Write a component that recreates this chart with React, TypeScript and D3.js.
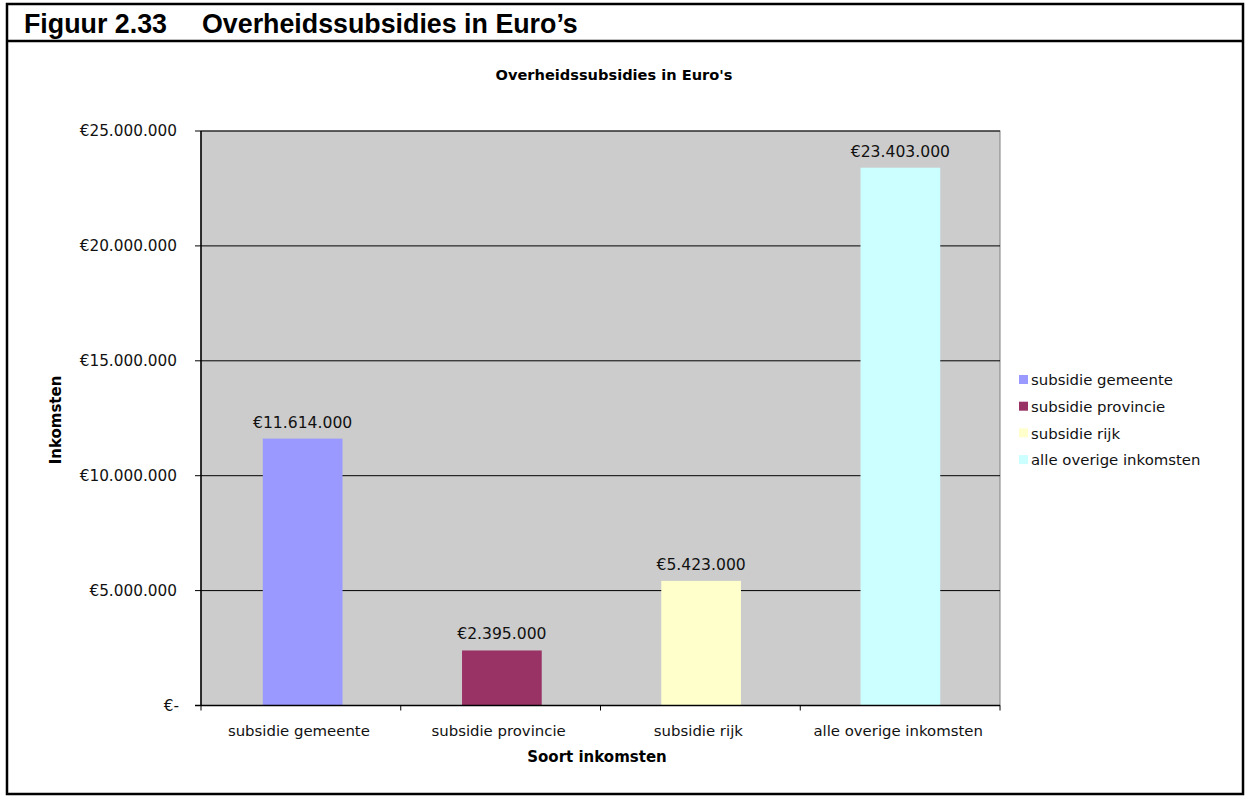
import React from "react";
import * as d3 from "d3";

const categories = ["subsidie gemeente", "subsidie provincie", "subsidie rijk", "alle overige inkomsten"];
const values = [11614000, 2395000, 5423000, 23403000];
const colors = ["#9999FF", "#993366", "#FFFFCC", "#CCFFFF"];
const yTicks = [0, 5000000, 10000000, 15000000, 20000000, 25000000];

const fmt = (v: number) => {
  if (v === 0) return "€-";
  return "€" + d3.format(",")(v).replace(/,/g, ".");
};

export default function App() {
  const W = 1245, H = 796;
  const left = 201, right = 1000, top = 131, bottom = 705.5;
  const x = d3.scaleBand<string>().domain(categories).range([left + 2, right]).paddingInner(0.6).paddingOuter(0.3);
  const xb = d3.scaleBand<string>().domain(categories).range([left, right]);
  const y = d3.scaleLinear().domain([0, 25000000]).range([bottom, top]);
  const font = "'DejaVu Sans', Verdana, sans-serif";
  return (
    <svg width={W} height={H} style={{ position: "absolute", left: 0, top: 0 }} fontFamily={font}>
      <rect x={0} y={0} width={W} height={H} fill="#fff" />
      {/* frame */}
      <rect x={7} y={4} width={1236} height={790} fill="none" stroke="#000" strokeWidth={2.5} />
      <line x1={7} x2={1243} y1={41} y2={41} stroke="#000" strokeWidth={2.5} />
      <text x={24} y={33} fontFamily="'Liberation Sans', Arial, sans-serif" fontWeight="bold" fontSize={26.8}>Figuur 2.33</text>
      <text x={202} y={33} fontFamily="'Liberation Sans', Arial, sans-serif" fontWeight="bold" fontSize={26.8}>Overheidssubsidies in Euro’s</text>

      <text x={614} y={80} textAnchor="middle" fontWeight="bold" fontSize={14.6}>Overheidssubsidies in Euro's</text>

      {/* plot area */}
      <rect x={left} y={top} width={right - left} height={bottom - top} fill="#CCCCCC" stroke="#808080" strokeWidth={1} />
      {yTicks.map((t) => (
        <g key={t}>
          {t > 0 && <line x1={left} x2={right} y1={y(t)} y2={y(t)} stroke="#000" strokeWidth={1} />}
          <line x1={left - 6} x2={left} y1={y(t)} y2={y(t)} stroke="#000" />
          <text x={t === 0 ? 179 : 177} y={y(t)} dy="0.35em" textAnchor="end" fontSize={15.3} fill="#111">{fmt(t)}</text>
        </g>
      ))}
      {categories.map((c, i) => (
        <g key={c}>
          <rect x={x(c)} y={y(values[i])} width={x.bandwidth()} height={bottom - y(values[i])} fill={colors[i]} />
          <text x={(x(c) as number) + x.bandwidth() / 2} y={y(values[i]) - 11} textAnchor="middle" fontSize={15.6} fill="#111">{fmt(values[i])}</text>
          <text x={(xb(c) as number) + xb.bandwidth() / 2 - 2} y={736} textAnchor="middle" fontSize={14.9} fill="#111">{c}</text>
        </g>
      ))}
      <line x1={left} x2={left} y1={top} y2={bottom} stroke="#000" strokeWidth={1.5} />
      <line x1={left - 6} x2={right} y1={bottom} y2={bottom} stroke="#000" strokeWidth={1.5} />
      {d3.range(categories.length + 1).map((i) => {
        const px = left + i * xb.bandwidth();
        return <line key={i} x1={px} x2={px} y1={bottom} y2={bottom + 5} stroke="#000" />;
      })}
      <text x={597} y={762} textAnchor="middle" fontWeight="bold" fontSize={15}>Soort inkomsten</text>
      <text transform={`translate(61,420) rotate(-90)`} textAnchor="middle" fontWeight="bold" fontSize={15}>Inkomsten</text>

      {/* legend */}
      {categories.map((c, i) => (
        <g key={c} transform={`translate(1019,${380 + i * 26.7})`}>
          <rect x={0} y={-5} width={9} height={9} fill={colors[i]} />
          <text x={12} y={0} dy="0.35em" fontSize={14.9} fill="#111">{c}</text>
        </g>
      ))}
    </svg>
  );
}
